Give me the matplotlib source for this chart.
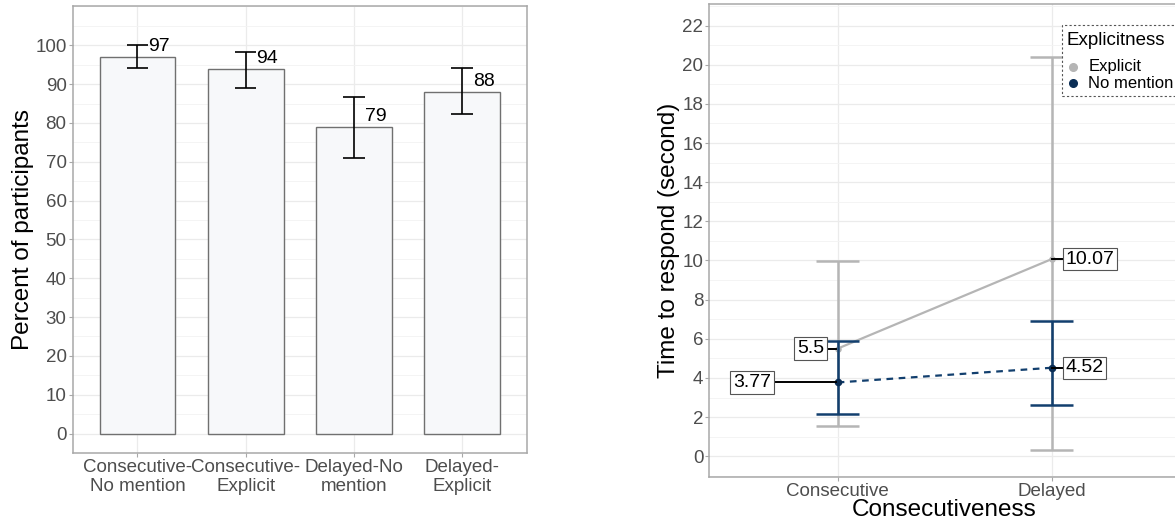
import numpy as np
import matplotlib
matplotlib.use("Agg")
import matplotlib.pyplot as plt
from matplotlib.lines import Line2D
from matplotlib.patches import Rectangle
from matplotlib.ticker import MultipleLocator

plt.rcParams["font.family"] = ["Liberation Sans", "DejaVu Sans"]

# left panel: percent of participants per condition
conditions = ["Consecutive-\nNo mention", "Consecutive-\nExplicit", "Delayed-No\nmention", "Delayed-\nExplicit"]
pct = [97, 94, 79, 88]
pct_lo = [94.2, 89.1, 70.9, 82.4]
pct_hi = [100.0, 98.2, 86.8, 94.2]

# right panel: time to respond by consecutiveness and explicitness
timing = ["Consecutive", "Delayed"]
explicit_mean = [5.5, 10.07]
explicit_lo = [1.55, 0.3]
explicit_hi = [9.98, 20.4]
nomention_mean = [3.77, 4.52]
nomention_lo = [2.18, 2.64]
nomention_hi = [5.9, 6.93]
groups = ["Explicit", "No mention"]

GREY = "#B5B5B5"
NAVY = "#123F6E"
NAVY_PT = "#0B2E55"
TICK_COL = "#4D4D4D"
BORDER = "#A8A8A8"

W, H = 1175, 523
fig = plt.figure(figsize=(W / 100, H / 100), dpi=100)


def px_axes(left, top, right, bottom):
    return fig.add_axes([left / W, 1 - bottom / H, (right - left) / W, (bottom - top) / H])


def style_panel(ax):
    for s in ax.spines.values():
        s.set_color(BORDER)
        s.set_linewidth(1.1)
    ax.grid(which="major", color="#EBEBEB", linewidth=0.9, zorder=0)
    ax.grid(which="minor", axis="y", color="#F3F3F3", linewidth=0.6, zorder=0)
    ax.set_axisbelow(True)
    ax.tick_params(which="major", length=2.75, width=0.8, color=BORDER,
                   labelcolor=TICK_COL, labelsize=13.5, pad=1.5)
    ax.tick_params(which="minor", length=0)


# ---- bar chart ----
ax1 = px_axes(72.5, 5.7, 527, 453.3)
x1 = np.arange(1, len(pct) + 1)
ax1.bar(x1, pct, width=0.7, color="#F7F8FA", edgecolor="#707070", linewidth=1.0, zorder=2)
ax1.vlines(x1, pct_lo, pct_hi, color="black", linewidth=1.2, zorder=3)
ax1.hlines(pct_lo, x1 - 0.1, x1 + 0.1, color="black", linewidth=1.2, zorder=3)
ax1.hlines(pct_hi, x1 - 0.1, x1 + 0.1, color="black", linewidth=1.2, zorder=3)
for xi, v in zip(x1, pct):
    ax1.text(xi + 0.1, v + 0.4, str(v), ha="left", va="bottom", fontsize=14, color="black", zorder=4)
ax1.set_xlim(0.4, 4.6)
ax1.set_ylim(-5.1, 110.2)
ax1.set_xticks(x1)
ax1.set_xticklabels(conditions, linespacing=1.15)
ax1.set_yticks(np.arange(0, 101, 10))
ax1.yaxis.set_minor_locator(MultipleLocator(5))
style_panel(ax1)
ax1.set_ylabel("Percent of participants", fontsize=17.5, labelpad=1)

# ---- interaction plot ----
R_LEFT, R_RIGHT = 709.3, 1190
ax2 = px_axes(R_LEFT, 4, R_RIGHT, 477)
x2 = np.arange(1, len(timing) + 1)

ax2.plot(x2, explicit_mean, color=GREY, linewidth=1.6, zorder=3)
ax2.vlines(x2, explicit_lo, explicit_hi, color=GREY, linewidth=1.8, zorder=3)
ax2.hlines(explicit_lo, x2 - 0.1, x2 + 0.1, color=GREY, linewidth=1.8, zorder=3)
ax2.hlines(explicit_hi, x2 - 0.1, x2 + 0.1, color=GREY, linewidth=1.8, zorder=3)
ax2.scatter(x2, explicit_mean, s=22, color=GREY, zorder=4, linewidths=0)

ax2.plot(x2, nomention_mean, color=NAVY, linewidth=1.6, linestyle=(0, (3, 2.5)), zorder=5)
ax2.vlines(x2, nomention_lo, nomention_hi, color=NAVY, linewidth=1.8, zorder=5)
ax2.hlines(nomention_lo, x2 - 0.1, x2 + 0.1, color=NAVY, linewidth=1.8, zorder=5)
ax2.hlines(nomention_hi, x2 - 0.1, x2 + 0.1, color=NAVY, linewidth=1.8, zorder=5)
ax2.scatter(x2, nomention_mean, s=30, color=NAVY_PT, zorder=6, linewidths=0)

box = dict(boxstyle="square,pad=0.14", facecolor="white", edgecolor="#555555", linewidth=0.8)


def value_label(x, y, tip_x, text, side):
    ax2.plot([tip_x, x], [y, y], color="black", linewidth=1.4, zorder=7)
    ha = "right" if side == "left" else "left"
    ax2.text(x + (-0.012 if side == "left" else 0.012), y, text, ha=ha, va="center",
             fontsize=14, color="black", bbox=box, zorder=8)


value_label(0.70, nomention_mean[0], 0.99, f"{nomention_mean[0]:.2f}", "left")
value_label(0.948, explicit_mean[0], 0.99, f"{explicit_mean[0]:g}", "left")
value_label(2.053, explicit_mean[1], 2.0, f"{explicit_mean[1]:.2f}", "right")
value_label(2.053, nomention_mean[1], 2.0, f"{nomention_mean[1]:.2f}", "right")

ax2.set_xlim(0.4, 0.4 + (R_RIGHT - R_LEFT) / 214.0)
ax2.set_ylim(-1.06, 23.1)
ax2.set_xticks(x2)
ax2.set_xticklabels(timing)
ax2.yaxis.set_major_locator(MultipleLocator(2))
ax2.yaxis.set_minor_locator(MultipleLocator(1))
style_panel(ax2)
ax2.set_ylabel("Time to respond (second)", fontsize=17.5, labelpad=2)
ax2.set_xlabel("Consecutiveness", fontsize=17.5, labelpad=0)
ax2.xaxis.set_label_coords((944.6 - R_LEFT) / (R_RIGHT - R_LEFT), -0.047)
ax2.xaxis.label.set_verticalalignment("top")


# legend drawn in figure pixels (it runs past the right edge)
def fx(px):
    return px / W


def fy(py):
    return 1 - py / H


fig.patches.append(Rectangle((fx(1061.5), fy(96)), fx(1200 - 1061.5), (96 - 25) / H,
                             transform=fig.transFigure, facecolor="white", edgecolor="#555555",
                             linewidth=0.8, linestyle=(0, (2, 2)), zorder=10))
fig.text(fx(1066.7), fy(40.7), "Explicitness", fontsize=13.5, ha="left", va="center", zorder=11)
for py, name, col in zip([66.7, 83.3], groups, [GREY, NAVY_PT]):
    fig.add_artist(Line2D([fx(1073.3)], [fy(py)], marker="o", markersize=5.5, color=col,
                          linestyle="none", transform=fig.transFigure, zorder=11))
    fig.text(fx(1088.3), fy(py), name, fontsize=12, ha="left", va="center", zorder=11)

fig.savefig("out.png", dpi=100)
